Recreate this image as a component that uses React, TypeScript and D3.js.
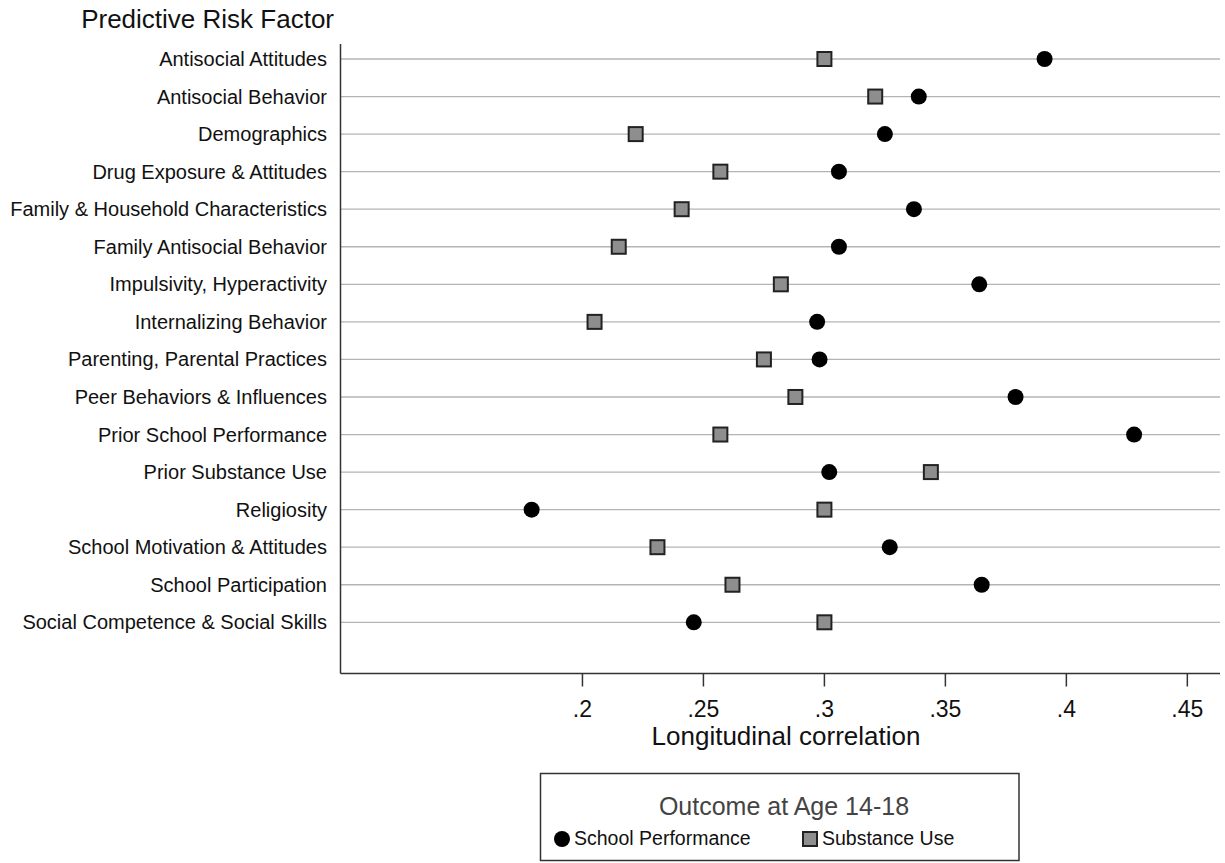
import React, { useEffect, useRef } from 'react';
import * as d3 from 'd3';

const factors = [
  'Antisocial Attitudes',
  'Antisocial Behavior',
  'Demographics',
  'Drug Exposure & Attitudes',
  'Family & Household Characteristics',
  'Family Antisocial Behavior',
  'Impulsivity, Hyperactivity',
  'Internalizing Behavior',
  'Parenting, Parental Practices',
  'Peer Behaviors & Influences',
  'Prior School Performance',
  'Prior Substance Use',
  'Religiosity',
  'School Motivation & Attitudes',
  'School Participation',
  'Social Competence & Social Skills',
];

const schoolPerformance = [
  0.391, 0.339, 0.325, 0.306, 0.337, 0.306, 0.364, 0.297,
  0.298, 0.379, 0.428, 0.302, 0.179, 0.327, 0.365, 0.246,
];

const substanceUse = [
  0.300, 0.321, 0.222, 0.257, 0.241, 0.215, 0.282, 0.205,
  0.275, 0.288, 0.257, 0.344, 0.300, 0.231, 0.262, 0.300,
];

const xTicks = [0.2, 0.25, 0.3, 0.35, 0.4, 0.45];

const width = 1225;
const height = 863;
const font = '"Liberation Sans", Arial, sans-serif';

function App() {
  const ref = useRef<SVGSVGElement>(null);

  useEffect(() => {
    const svg = d3.select(ref.current);
    svg.selectAll('*').remove();

    const plot = { left: 340.5, right: 1220, top: 44, bottom: 673.5 };

    const x = d3.scaleLinear().domain([0.1, 0.4635]).range([plot.left, plot.right]);
    const y = d3.scalePoint<string>().domain(factors).range([59, 622.3]);

    svg.append('rect').attr('width', width).attr('height', height).attr('fill', '#fff');

    // grid lines for each factor
    svg.append('g')
      .selectAll('line')
      .data(factors)
      .enter()
      .append('line')
      .attr('x1', plot.left)
      .attr('x2', plot.right)
      .attr('y1', (d) => y(d)!)
      .attr('y2', (d) => y(d)!)
      .attr('stroke', '#b4b4b4')
      .attr('stroke-width', 1.3);

    // axes lines
    svg.append('line')
      .attr('x1', plot.left).attr('x2', plot.left)
      .attr('y1', plot.top).attr('y2', plot.bottom)
      .attr('stroke', '#333').attr('stroke-width', 1.5);
    svg.append('line')
      .attr('x1', plot.left).attr('x2', plot.right)
      .attr('y1', plot.bottom).attr('y2', plot.bottom)
      .attr('stroke', '#333').attr('stroke-width', 1.5);

    // category labels
    svg.append('g')
      .selectAll('text')
      .data(factors)
      .enter()
      .append('text')
      .attr('x', 327)
      .attr('y', (d) => y(d)! + 7)
      .attr('text-anchor', 'end')
      .style('font-family', font)
      .style('font-size', '20px')
      .attr('fill', '#111')
      .text((d) => d);

    // x ticks
    const ticks = svg.append('g');
    ticks.selectAll('line')
      .data(xTicks)
      .enter()
      .append('line')
      .attr('x1', (d) => x(d)).attr('x2', (d) => x(d))
      .attr('y1', plot.bottom).attr('y2', plot.bottom + 13)
      .attr('stroke', '#333').attr('stroke-width', 1.5);
    ticks.selectAll('text')
      .data(xTicks)
      .enter()
      .append('text')
      .attr('x', (d) => x(d))
      .attr('y', 717)
      .attr('text-anchor', 'middle')
      .style('font-family', font)
      .style('font-size', '23px')
      .attr('fill', '#111')
      .text((d) => d3.format('.2~f')(d).replace(/^0/, ''));

    svg.append('text')
      .attr('x', 786).attr('y', 745)
      .attr('text-anchor', 'middle')
      .style('font-family', font)
      .style('font-size', '26px')
      .attr('fill', '#111')
      .text('Longitudinal correlation');

    svg.append('text')
      .attr('x', 334).attr('y', 28)
      .attr('text-anchor', 'end')
      .style('font-family', font)
      .style('font-size', '26px')
      .attr('fill', '#111')
      .text('Predictive Risk Factor');

    // substance use squares
    svg.append('g')
      .selectAll('rect')
      .data(substanceUse)
      .enter()
      .append('rect')
      .attr('x', (d) => x(d) - 7)
      .attr('y', (_, i) => y(factors[i])! - 7)
      .attr('width', 14).attr('height', 14)
      .attr('fill', '#8e8e8e')
      .attr('stroke', '#222')
      .attr('stroke-width', 2);

    // school performance circles
    svg.append('g')
      .selectAll('circle')
      .data(schoolPerformance)
      .enter()
      .append('circle')
      .attr('cx', (d) => x(d))
      .attr('cy', (_, i) => y(factors[i])!)
      .attr('r', 8)
      .attr('fill', '#000');

    // legend
    const lg = svg.append('g');
    lg.append('rect')
      .attr('x', 540.5).attr('y', 773.5)
      .attr('width', 478.5).attr('height', 87)
      .attr('fill', '#fff').attr('stroke', '#333').attr('stroke-width', 1.5);
    lg.append('text')
      .attr('x', 784).attr('y', 815)
      .attr('text-anchor', 'middle')
      .style('font-family', font)
      .style('font-size', '25px')
      .attr('fill', '#444')
      .text('Outcome at Age 14-18');
    lg.append('circle').attr('cx', 562).attr('cy', 839).attr('r', 8).attr('fill', '#000');
    lg.append('text')
      .attr('x', 574).attr('y', 845)
      .style('font-family', font)
      .style('font-size', '19.5px')
      .attr('fill', '#111')
      .text('School Performance');
    lg.append('rect')
      .attr('x', 803).attr('y', 832).attr('width', 14).attr('height', 14)
      .attr('fill', '#8e8e8e').attr('stroke', '#222').attr('stroke-width', 2);
    lg.append('text')
      .attr('x', 822).attr('y', 845)
      .style('font-family', font)
      .style('font-size', '19.5px')
      .attr('fill', '#111')
      .text('Substance Use');
  }, []);

  return (
    <svg
      ref={ref}
      width={width}
      height={height}
      style={{ position: 'absolute', left: 0, top: 0, display: 'block' }}
    />
  );
}

export default App;
